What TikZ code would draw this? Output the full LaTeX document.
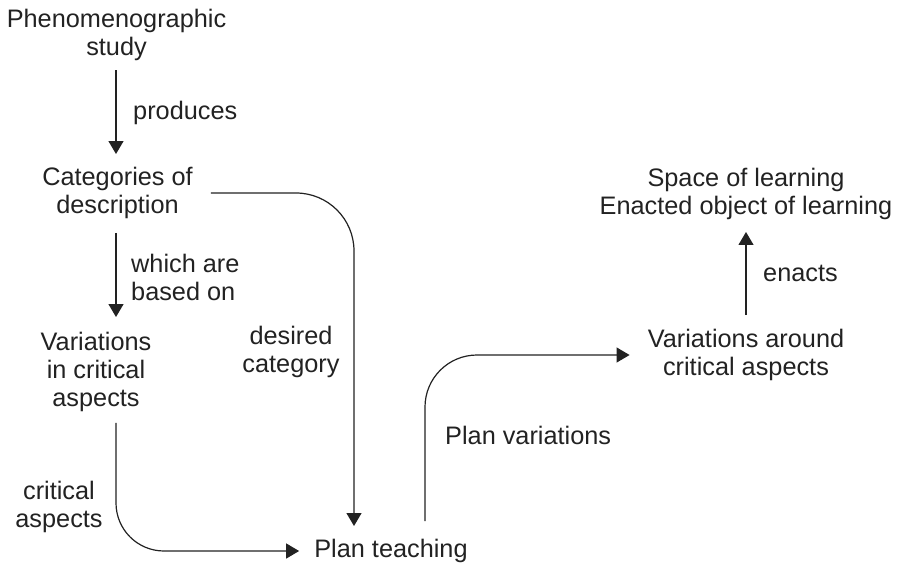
\documentclass[tikz,border=0pt]{standalone}
\usepackage{fontspec}
\setmainfont{Liberation Sans}
\usetikzlibrary{arrows.meta}
\definecolor{ink}{HTML}{222222}
\tikzset{
  txt/.style={inner sep=0pt, align=center, text=ink, font=\fontsize{25.3pt}{28pt}\selectfont},
  lbl/.style={txt},
  arr/.style={draw=ink, line width=1.2pt, -{Triangle[length=13pt,width=15pt]}},
}
\begin{document}
\begin{tikzpicture}[x=1pt,y=-1pt]
\useasboundingbox (0,0) rectangle (900,563);
% main nodes
\node[txt] (ps) at (116.5,34.5) {Phenomenographic\\study};
\node[txt] (cat) at (117.5,193) {Categories of\\description};
\node[txt] (var) at (96,372) {Variations\\in critical\\aspects};
\node[txt] (pt) at (391,551) {Plan teaching};
\node[txt] (vac) at (746,355) {Variations around\\critical aspects};
\node[txt] (sol) at (746,194) {Space of learning\\Enacted object of learning};
% labels
\node[lbl, anchor=west] (l1) at (133,113) {produces};
\node[lbl, anchor=west, align=left] (l2) at (131,277) {which are\\based on};
\node[lbl] (l3) at (291,352) {desired\\category};
\node[lbl] (l4) at (59,507) {critical\\aspects};
\node[lbl, anchor=west] (l5) at (445,435) {Plan variations};
\node[lbl, anchor=west] (l6) at (763,273) {enacts};
% connectors
\coordinate (a1) at ([xshift=-0.5pt]ps.south);
\draw[arr, shorten <=10pt, shorten >=13pt] (a1) -- (a1 |- cat.north);
\coordinate (a2) at ([xshift=-1.5pt]cat.south);
\draw[arr, shorten <=14pt, shorten >=15pt] (a2) -- (a2 |- var.north);
\draw[arr, rounded corners=48pt] ([xshift=20pt,yshift=-11pt]var.south) |- ([xshift=-15pt]pt.west);
\draw[arr, rounded corners=58pt] ([xshift=18pt]cat.east) -| ([xshift=-37pt,yshift=13pt]pt.north);
\draw[arr, rounded corners=52pt] ([xshift=34pt,yshift=18pt]pt.north) |- ([xshift=-18pt]vac.west);
\draw[arr, shorten <=14pt, shorten >=12pt] (vac.north) -- (sol.south);
\end{tikzpicture}
\end{document}
